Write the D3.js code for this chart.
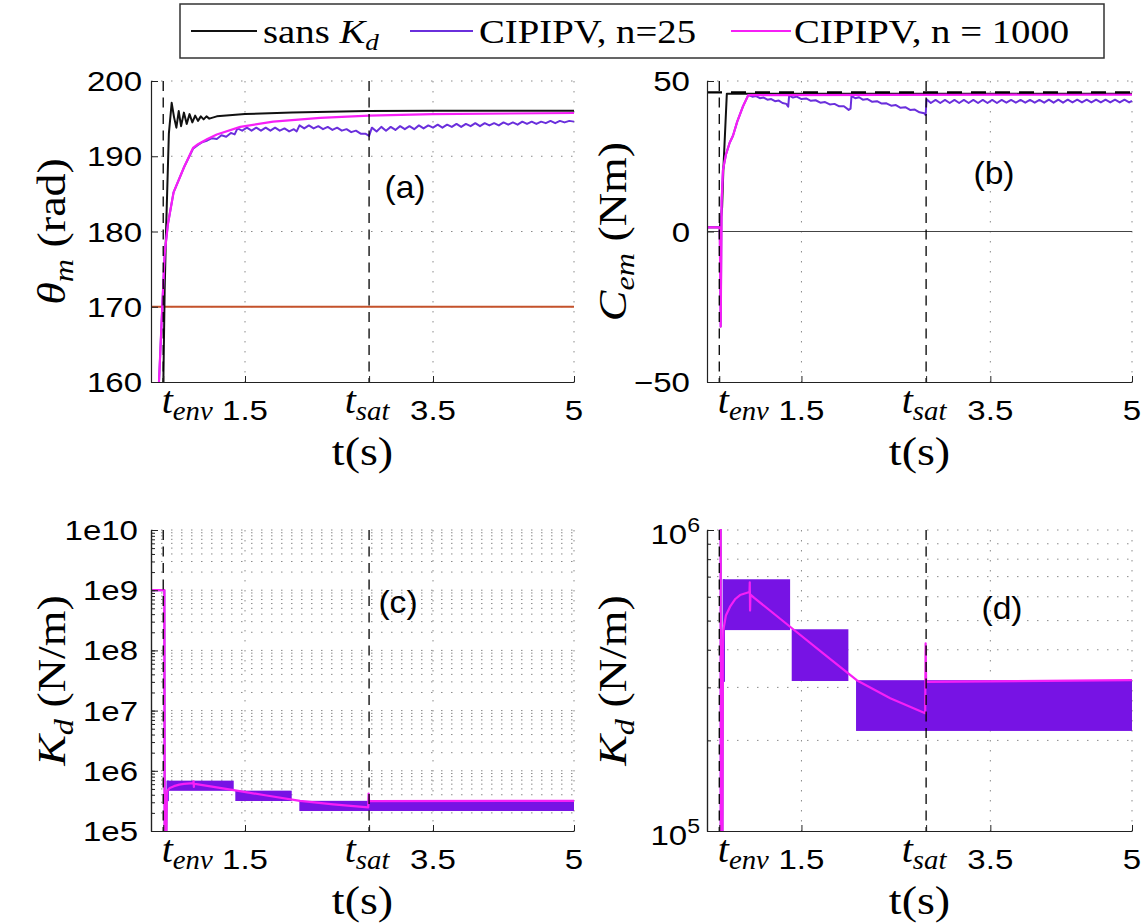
<!DOCTYPE html>
<html><head><meta charset="utf-8">
<script src="https://cdn.jsdelivr.net/npm/d3@7"></script>
<style>body{margin:0;background:#fff}svg{display:block}</style>
</head><body>
<svg id="c" width="1146" height="924"></svg>
<script>
// ---------------- data ----------------
const tDomain = [0.5, 5];
const tEnv = 0.63, tSat = 2.82;
const xTicks = [tEnv, 1.5, tSat, 3.5, 5];
const xTickLabels = ["t_env", "1.5", "t_sat", "3.5", "5"];
const xGridVals = [1.5, 3.5, 5];

const thetaDomain = [160, 200];
const thetaTicks = [160, 170, 180, 190, 200];
const cemDomain = [-50, 50];
const cemTicks = [-50, 0, 50];
const cemTickLabels = ["\u221250", "0", "50"];
const kdDomainC = [1e5, 1e10];
const kdTicksC = [1e5, 1e6, 1e7, 1e8, 1e9, 1e10];
const kdTickLabelsC = ["1e5", "1e6", "1e7", "1e8", "1e9", "1e10"];
const kdDomainD = [1e5, 1e6];
const kdTicksD = [1e5, 1e6];
const kdTickExpD = ["5", "6"];

const thetaRef = 170;     // red reference line
const cemZero = 0;        // zero line
const cemLimit = 46.2;    // dashed saturation line

const seriesNames = ["sans K_d", "CIPIPV, n=25", "CIPIPV, n = 1000"];

// (a) theta_m (rad)
const thetaSansKd = [[0.5,120],[0.62,150],[0.645,172],[0.66,180],[0.69,193],[0.72,197.1],[0.745,195.2],[0.77,193.8],[0.795,196.0],[0.82,194.0],[0.85,195.8],[0.88,194.3],[0.91,195.6],[0.94,194.5],[0.97,195.4],[1.0,194.7],[1.03,195.3],[1.06,194.9],[1.09,195.3],[1.12,195.0],[1.2,195.3],[1.5,195.6],[2.0,195.8],[2.8,196.0],[3.5,196.05],[5.0,196.05]];
const thetaN1000 = [[0.55,145],[0.585,160],[0.62,170],[0.645,177],[0.68,181],[0.74,185.2],[0.85,188.5],[0.947,191.1],[1.0,191.6],[1.1,192.3],[1.2,192.9],[1.45,193.9],[1.8,194.6],[2.3,195.1],[2.82,195.4],[3.5,195.6],[5.0,195.75]];
const thetaN25 = [[0.55,145],[0.585,160],[0.62,170],[0.645,177],[0.68,181],[0.74,185.2],[0.85,188.5],[0.947,191.0],[1.0,191.5],[1.05,191.9],[1.1,192.1],[1.15,192.4],[1.2,192.3],[1.25,192.8],[1.3,192.6],[1.35,193.1],[1.39,192.9],[1.42,193.7],[1.47,193.4],[1.52,193.8],[1.57,193.4],[1.62,193.8],[1.67,193.4],[1.72,193.8],[1.77,193.4],[1.82,193.8],[1.87,193.4],[1.92,193.7],[1.97,193.3],[2.02,193.6],[2.05,193.3],[2.08,194.1],[2.13,193.7],[2.18,194.1],[2.23,193.7],[2.28,194.0],[2.33,193.6],[2.38,193.9],[2.43,193.5],[2.48,193.8],[2.53,193.4],[2.58,193.6],[2.63,193.2],[2.68,193.4],[2.73,193.0],[2.78,193.0],[2.82,192.7],[2.85,193.8],[2.9,193.3],[2.95,193.9],[3.0,193.4],[3.05,193.9],[3.1,193.5],[3.15,194.0],[3.2,193.6],[3.25,194.0],[3.3,193.6],[3.35,194.1],[3.4,193.7],[3.45,194.1],[3.5,193.8],[3.55,194.2],[3.6,193.8],[3.65,194.2],[3.7,193.9],[3.75,194.3],[3.8,193.9],[3.85,194.3],[3.9,194.0],[3.95,194.4],[4.0,194.0],[4.05,194.4],[4.1,194.1],[4.15,194.4],[4.2,194.1],[4.25,194.5],[4.3,194.2],[4.35,194.5],[4.4,194.2],[4.45,194.6],[4.5,194.3],[4.55,194.6],[4.6,194.3],[4.65,194.6],[4.7,194.4],[4.75,194.7],[4.8,194.4],[4.85,194.7],[4.9,194.5],[4.95,194.7],[5.0,194.6]];

// (b) C_em (Nm)
const cemSansKd = [[0.5,1.4],[0.635,1.4],[0.66,8],[0.673,20.4],[0.71,45.8],[5.0,45.8]];
const cemN1000 = [[0.5,1.4],[0.635,1.4],[0.645,-31.6],[0.655,10],[0.669,20.4],[0.70,25.5],[0.74,29.5],[0.775,31.8],[0.82,36.5],[0.88,41.5],[0.937,45.3],[5.0,45.5]];
const cemN25 = [[0.5,1.4],[0.635,1.4],[0.645,-31.6],[0.655,10],[0.669,20.4],[0.70,25.5],[0.74,29.5],[0.775,31.8],[0.82,36.5],[0.88,41.5],[0.937,45.3],[0.98,44.8],[1.02,45.0],[1.06,44.3],[1.1,44.5],[1.14,43.8],[1.18,44.0],[1.22,43.3],[1.26,43.5],[1.3,42.7],[1.34,42.4],[1.36,41.5],[1.37,45.2],[1.41,44.5],[1.45,44.8],[1.5,44.0],[1.55,44.2],[1.6,43.4],[1.65,43.6],[1.7,42.8],[1.75,43.0],[1.8,42.2],[1.85,42.4],[1.9,41.6],[1.95,41.6],[2.0,40.4],[2.02,40.8],[2.03,45.0],[2.07,44.3],[2.11,44.6],[2.15,43.8],[2.2,44.0],[2.25,43.1],[2.3,43.3],[2.35,42.5],[2.4,42.6],[2.45,41.8],[2.5,42.0],[2.55,41.1],[2.6,41.3],[2.65,40.4],[2.7,40.5],[2.75,39.6],[2.8,39.3],[2.815,38.7],[2.825,43.9],[2.87,42.7],[2.92,43.7],[2.97,42.7],[3.02,43.7],[3.07,42.7],[3.12,43.7],[3.17,42.7],[3.22,43.7],[3.27,42.7],[3.32,43.7],[3.37,42.7],[3.42,43.7],[3.47,42.7],[3.52,43.7],[3.57,42.7],[3.62,43.7],[3.67,42.8],[3.72,43.7],[3.77,42.8],[3.82,43.7],[3.87,42.8],[3.92,43.7],[3.97,42.8],[4.02,43.7],[4.07,42.8],[4.12,43.8],[4.17,42.8],[4.22,43.8],[4.27,42.8],[4.32,43.8],[4.37,42.9],[4.42,43.8],[4.47,42.9],[4.52,43.8],[4.57,42.9],[4.62,43.8],[4.67,42.9],[4.72,43.8],[4.77,42.9],[4.82,43.8],[4.87,42.9],[4.92,43.8],[4.97,42.9],[5.0,43.4]];

// (c),(d) K_d (N/m)
const kdN25Line = [[0.5,1e9],[0.642,1e9],[0.646,3e4],[0.66,3e4],[0.667,3.13e5]];
const kdN25Bands = [[0.667,0.69,3.13e5,6.86e5],[0.667,1.38,4.65e5,6.86e5],[1.397,1.997,3.15e5,4.68e5],[2.078,5.0,2.15e5,3.17e5]];
const kdN1000 = [[0.5,1e9],[0.642,1e9],[0.646,3e4],[0.66,3e4],[0.668,4.0e5],[0.673,4.65e5],[0.70,5.2e5],[0.744,5.56e5],[0.80,5.9e5],[0.85,6.08e5],[0.95,6.22e5],[0.953,6.7e5],[0.956,5.4e5],[0.96,6.1e5],[1.0,5.95e5],[1.38,4.77e5],[1.73,3.89e5],[2.085,3.17e5],[2.44,2.76e5],[2.81,2.46e5],[2.815,4.2e5],[2.82,3.13e5],[5.0,3.17e5]];

// ---------------- style ----------------
const COL_BLACK = "#111111", COL_PURPLE = "#6a2fdc", COL_PURPLE_FILL = "#7713e4", COL_MAGENTA = "#f61ff6", COL_RED = "#c4522b";
const SERIF = "'Liberation Serif','Times New Roman',serif";
const SANS = "'Liberation Sans',Arial,sans-serif";

const svg = d3.select("#c");
svg.append("rect").attr("width",1146).attr("height",924).attr("fill","#fff");
const defs = svg.append("defs");

function rich(g, x, y, parts, o) {
  const t = g.append("text")
    .attr("transform", `translate(${x},${y}) rotate(${o.rot||0}) scale(${o.sx||1},1)`)
    .attr("font-family", o.family).attr("font-size", o.size).attr("font-weight", "normal")
    .attr("text-anchor", o.anchor || "middle").attr("fill", "#000");
  if (o.dom) t.attr("dominant-baseline", o.dom);
  let shift = 0;
  parts.forEach(p => {
    const s = t.append("tspan").text(p.t);
    const target = p.sub ? o.size*0.2 : p.sup ? -o.size*0.42 : 0;
    if (target - shift !== 0) s.attr("dy", target - shift);
    shift = target;
    if (p.sub || p.sup) s.attr("font-size", o.size*(p.k||0.7));
    if (p.it) s.attr("font-style", "italic");
  });
  return t;
}

function makePanel(o) {
  const x = d3.scaleLinear().domain(tDomain).range([o.x0, o.x1]);
  const y = o.y;
  const g = svg.append("g");
  defs.append("clipPath").attr("id", "clip-"+o.name).append("rect")
    .attr("x", o.x0).attr("y", o.y0-1).attr("width", o.x1-o.x0+1).attr("height", o.y1-o.y0+2);
  const grid = g.append("g").attr("stroke","#8a8a8a").attr("stroke-width",1).attr("stroke-dasharray","1.5,8.5").attr("fill","none");
  xGridVals.forEach(v => grid.append("line").attr("x1",x(v)).attr("x2",x(v)).attr("y1",o.y0).attr("y2",o.y1));
  o.yGrid.forEach(v => grid.append("line").attr("x1",o.x0).attr("x2",o.x1).attr("y1",y(v)).attr("y2",y(v)));
  const data = g.append("g").attr("clip-path", `url(#clip-${o.name})`);
  return {x, y, g, data, o};
}

function lineOf(P, arr, color, w) {
  const gen = d3.line().x(d => P.x(d[0])).y(d => P.y(d[1]));
  P.data.append("path").attr("d", gen(arr)).attr("fill","none").attr("stroke",color)
    .attr("stroke-width", w||2).attr("stroke-linejoin","round");
}

function finish(P) {
  const o = P.o;
  [tEnv, tSat].forEach(v => P.g.append("line").attr("x1",P.x(v)).attr("x2",P.x(v)).attr("y1",o.y0).attr("y2",o.y1)
    .attr("stroke","#000").attr("stroke-width",1.3).attr("stroke-dasharray","10,6.5"));
  const ax = P.g.append("g").attr("color","#222");
  ax.append("g").attr("transform",`translate(0,${o.y1})`)
    .call(d3.axisBottom(P.x).tickValues(xTicks).tickSize(-6).tickSizeOuter(0).tickFormat(""));
  ax.append("g").attr("transform",`translate(${o.x0},0)`)
    .call(d3.axisLeft(P.y).tickValues(o.yMajor).tickSize(-7).tickSizeOuter(0).tickFormat(""));
  if (o.yMinor) ax.append("g").attr("transform",`translate(${o.x0},0)`)
    .call(d3.axisLeft(P.y).tickValues(o.yMinor).tickSize(-4).tickSizeOuter(0).tickFormat(""));
  ax.selectAll("path.domain").attr("stroke-width",1.2);
  const shiftX = [24, 0, -2, 0, 0];
  xTicks.forEach((v, i) => {
    const lab = xTickLabels[i];
    const cx = P.x(v) + shiftX[i];
    if (lab.startsWith("t_")) {
      rich(P.g, cx, o.y1+31, [{t:"t",it:1},{t:lab.slice(2),it:1,sub:1,k:0.72}], {family:SERIF,size:37,sx:1.08});
    } else {
      rich(P.g, cx, o.y1+38, [{t:lab}], {family:SANS,size:28,sx:1.18});
    }
  });
  rich(P.g, (o.x0+o.x1)/2, o.y1+83, [{t:"t(s)"}], {family:SERIF,size:40,sx:1.15});
  o.yLabels.forEach(L => rich(P.g, o.x0-o.labGap, P.y(L.v)+L.dy, L.parts, {family:SANS,size:28,sx:1.18,anchor:"end"}));
  rich(P.g, o.titleX, (o.y0+o.y1)/2, o.title, {family:SERIF,size:40,sx:1.15,rot:-90});
  rich(P.g, o.letter[1], o.letter[2], [{t:o.letter[0]}], {family:SANS,size:32,sx:1.05,dom:"central"});
}

// ---------- panel (a) ----------
const yA = d3.scaleLinear().domain(thetaDomain).range([382, 81]);
const PA = makePanel({name:"a", x0:151, x1:574, y0:81, y1:382, y:yA, yGrid:[170,180,190,200],
  yMajor:thetaTicks, yLabels:thetaTicks.map(v=>({v, dy:10, parts:[{t:String(v)}]})), labGap:9,
  title:[{t:"\u03b8",it:1},{t:"m",it:1,sub:1},{t:" (rad)"}], titleX:65, letter:["(a)",405,186]});
PA.data.append("line").attr("x1",PA.x(tDomain[0])).attr("x2",PA.x(tDomain[1])).attr("y1",yA(thetaRef)).attr("y2",yA(thetaRef))
  .attr("stroke",COL_RED).attr("stroke-width",2);
lineOf(PA, thetaSansKd, COL_BLACK, 2);
lineOf(PA, thetaN25, COL_PURPLE, 2);
lineOf(PA, thetaN1000, COL_MAGENTA, 2.2);
finish(PA);

// ---------- panel (b) ----------
const yB = d3.scaleLinear().domain(cemDomain).range([382, 81]);
const PB = makePanel({name:"b", x0:707, x1:1132, y0:81, y1:382, y:yB, yGrid:[50],
  yMajor:cemTicks, yLabels:cemTicks.map((v,i)=>({v, dy:10, parts:[{t:cemTickLabels[i]}]})), labGap:17,
  title:[{t:"C",it:1},{t:"em",it:1,sub:1},{t:" (Nm)"}], titleX:626, letter:["(b)",994,172]});
PB.data.append("line").attr("x1",PB.x(tDomain[0])).attr("x2",PB.x(tDomain[1])).attr("y1",yB(cemZero)).attr("y2",yB(cemZero))
  .attr("stroke","#444").attr("stroke-width",1.2);
lineOf(PB, cemSansKd, COL_BLACK, 2);
lineOf(PB, cemN25, COL_PURPLE, 2);
lineOf(PB, cemN1000, COL_MAGENTA, 2.2);
PB.data.append("line").attr("x1",PB.x(tDomain[0])).attr("x2",PB.x(tDomain[1])).attr("y1",yB(cemLimit)).attr("y2",yB(cemLimit))
  .attr("stroke","#000").attr("stroke-width",2.2).attr("stroke-dasharray","15,9");
finish(PB);

// ---------- panel (c) ----------
const yC = d3.scaleLog().domain(kdDomainC).range([831, 530]);
const allC = yC.ticks();
const PC = makePanel({name:"c", x0:151, x1:574, y0:530, y1:831, y:yC, yGrid:allC.filter(v=>v>kdDomainC[0]),
  yMajor:kdTicksC, yMinor:allC, yLabels:kdTicksC.map((v,i)=>({v, dy:10, parts:[{t:kdTickLabelsC[i]}]})), labGap:13,
  title:[{t:"K",it:1},{t:"d",it:1,sub:1},{t:" (N/m)"}], titleX:65, letter:["(c)",398,601]});
function bands(P) {
  kdN25Bands.forEach(b => P.data.append("rect").attr("x",P.x(b[0])).attr("width",P.x(b[1])-P.x(b[0]))
    .attr("y",P.y(b[3])).attr("height",P.y(b[2])-P.y(b[3])).attr("fill",COL_PURPLE_FILL));
}
lineOf(PC, kdN25Line, COL_PURPLE, 2);
bands(PC);
lineOf(PC, kdN1000, COL_MAGENTA, 2.2);
finish(PC);

// ---------- panel (d) ----------
const yD = d3.scaleLog().domain(kdDomainD).range([831, 530]);
const allD = yD.ticks();
const PD = makePanel({name:"d", x0:707, x1:1132, y0:530, y1:831, y:yD, yGrid:allD.filter(v=>v>kdDomainD[0]),
  yMajor:kdTicksD, yMinor:allD, yLabels:kdTicksD.map((v,i)=>({v, dy:14, parts:[{t:"10"},{t:kdTickExpD[i],sup:1,k:0.7}]})), labGap:7,
  title:[{t:"K",it:1},{t:"d",it:1,sub:1},{t:" (N/m)"}], titleX:626, letter:["(d)",1002,607]});
lineOf(PD, kdN25Line, COL_PURPLE, 2);
bands(PD);
lineOf(PD, kdN1000, COL_MAGENTA, 2.2);
finish(PD);

// ---------- legend ----------
const leg = svg.append("g");
leg.append("rect").attr("x",180).attr("y",4).attr("width",924).attr("height",54)
  .attr("fill","#fff").attr("stroke","#333").attr("stroke-width",1.5);
const legItems = [
  {col:COL_BLACK, x1:191, x2:257, tx:263, parts:[{t:"sans "},{t:"K",it:1},{t:"d",it:1,sub:1}]},
  {col:COL_PURPLE, x1:410, x2:473, tx:479, parts:[{t:seriesNames[1]}]},
  {col:COL_MAGENTA, x1:731, x2:791, tx:794, parts:[{t:seriesNames[2]}]}
];
legItems.forEach(it => {
  leg.append("line").attr("x1",it.x1).attr("x2",it.x2).attr("y1",31).attr("y2",31).attr("stroke",it.col).attr("stroke-width",2);
  rich(leg, it.tx, 43, it.parts, {family:SERIF,size:34,sx:1.14,anchor:"start"});
});
</script>
</body></html>
